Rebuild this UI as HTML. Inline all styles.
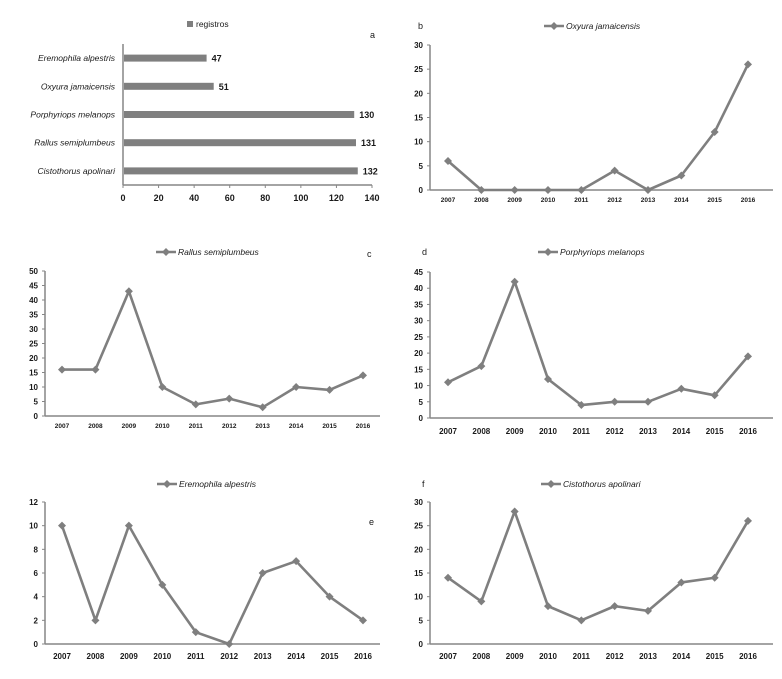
<!DOCTYPE html>
<html><head><meta charset="utf-8"><style>
body{margin:0;background:#fff;}
svg{display:block;font-family:"Liberation Sans",sans-serif;}
</style></head><body>
<svg id="chart" width="782" height="679" viewBox="0 0 782 679"></svg>
<script>
const species = ["Eremophila alpestris","Oxyura jamaicensis","Porphyriops melanops","Rallus semiplumbeus","Cistothorus apolinari"];
const registros = [47,51,130,131,132];
const barTicks = [0,20,40,60,80,100,120,140];
const years = ["2007","2008","2009","2010","2011","2012","2013","2014","2015","2016"];
const oxyura = [6,0,0,0,0,4,0,3,12,26];
const rallus = [16,16,43,10,4,6,3,10,9,14];
const porphyriops = [11,16,42,12,4,5,5,9,7,19];
const eremophila = [10,2,10,5,1,0,6,7,4,2];
const cistothorus = [14,9,28,8,5,8,7,13,14,26];
const ticksB = [0,5,10,15,20,25,30];
const ticksC = [0,5,10,15,20,25,30,35,40,45,50];
const ticksD = [0,5,10,15,20,25,30,35,40,45];
const ticksE = [0,2,4,6,8,10,12];
const ticksF = [0,5,10,15,20,25,30];

const svg = document.getElementById('chart');
const NS = "http://www.w3.org/2000/svg";
function mk(tag, attrs, parent, text){
  const e = document.createElementNS(NS, tag);
  for (const k in attrs) e.setAttribute(k, attrs[k]);
  if (text !== undefined) e.textContent = text;
  (parent||svg).appendChild(e);
  return e;
}
const GRAY = "#7f7f7f", AX = "#868686", TXT = "#1a1a1a";

// Bar chart a
(function(){
  const g = mk('g', {});
  
  
  const x0 = 123, x1 = 372, yTop = 44, yBot = 185;
  const xs = v => x0 + (v - 0) / 140 * (x1 - x0);
  const band = (yBot - yTop) / species.length;
  const yc = i => yTop + band * (i + 0.5);
  const ax = mk('line', {x1:x0, y1:yTop, x2:x0, y2:yBot, stroke:AX, 'stroke-width':1.5}, g);
  
  
  const bx = mk('line', {x1:x0, y1:yBot, x2:x1, y2:yBot, stroke:AX, 'stroke-width':1.5}, g);
  
  
  barTicks.forEach(t => {
    mk('line', {x1:xs(t), y1:yBot, x2:xs(t), y2:yBot+3, stroke:AX}, g);
    const tl = mk('text', {x:xs(t), y:yBot+16, 'font-size':9, 'font-weight':'bold', fill:TXT, 'text-anchor':'middle'}, g, t);
    
    
  });
  species.forEach((s, i) => {
    const y = yc(i);
    const b = mk('rect', {x:x0+1, y:y-3.5, width:xs(registros[i])-x0-1, height:7, fill:GRAY}, g);
    
    
    const v = mk('text', {x:xs(registros[i])+5, y:y+3.5, 'font-size':9, 'font-weight':'bold', fill:TXT}, g, registros[i]);
    
    
    const l = mk('text', {x:115, y:y+3, 'font-size':8.5, 'font-style':'italic', fill:TXT, 'text-anchor':'end'}, g, s);
    
    
  });
  const ls = mk('rect', {x:187, y:21, width:6, height:6, fill:GRAY}, g);
  
  
  const lt = mk('text', {x:196, y:27, 'font-size':8.5, fill:TXT}, g, 'registros');
  
  
  const pl = mk('text', {x:370, y:38, 'font-size':9, fill:TXT}, g, 'a');
  
  
})();

function lineChart(o){
  const g = mk('g', {});
  
  
  const maxT = o.ticks[o.ticks.length-1];
  const ys = v => o.yBot - v / maxT * (o.yBot - o.yTop);
  const xs = i => o.xFirst + i * (o.xLast - o.xFirst) / (years.length - 1);
  const ya = mk('line', {x1:o.x0, y1:o.yTop, x2:o.x0, y2:o.yBot, stroke:AX, 'stroke-width':1.5}, g);
  
  
  const xa = mk('line', {x1:o.x0, y1:o.yBot, x2:o.xEnd, y2:o.yBot, stroke:AX, 'stroke-width':1.5}, g);
  
  
  o.ticks.forEach(t => {
    mk('line', {x1:o.x0-3, y1:ys(t), x2:o.x0, y2:ys(t), stroke:AX}, g);
    const tl = mk('text', {x:o.x0-7, y:ys(t)+3, 'font-size':o.yfs, 'font-weight':'bold', fill:TXT, 'text-anchor':'end'}, g, t);
    
    
  });
  years.forEach((yr, i) => {
    const tl = mk('text', {x:xs(i), y:o.yBot+o.xoff, 'font-size':o.xfs, 'font-weight':'bold', fill:TXT, 'text-anchor':'middle'}, g, yr);
    
    
  });
  const pts = o.data.map((v,i) => xs(i) + ',' + ys(v)).join(' ');
  const ln = mk('polyline', {points:pts, fill:'none', stroke:GRAY, 'stroke-width':2.6, 'stroke-linejoin':'round'}, g);
  
  
  o.data.forEach((v,i) => {
    const x = xs(i), y = ys(v);
    const p = mk('polygon', {points:`${x},${y-4} ${x+4},${y} ${x},${y+4} ${x-4},${y}`, fill:GRAY}, g);
    
    
  });
  const lx = o.legX;
  const ll = mk('line', {x1:lx, y1:o.legY, x2:lx+20, y2:o.legY, stroke:GRAY, 'stroke-width':2.6}, g);
  
  
  mk('polygon', {points:`${lx+10},${o.legY-4} ${lx+14},${o.legY} ${lx+10},${o.legY+4} ${lx+6},${o.legY}`, fill:GRAY}, g);
  const lt = mk('text', {x:lx+22, y:o.legY+3, 'font-size':8.5, 'font-style':'italic', fill:TXT}, g, o.name);
  
  
  const pl = mk('text', {x:o.lx, y:o.ly, 'font-size':9, fill:TXT}, g, o.letter);
  
  
}

lineChart({letter:'b', name:'Oxyura jamaicensis', data:oxyura, ticks:ticksB, x0:430, xEnd:773, yTop:45, yBot:190, xFirst:448, xLast:748, yfs:8, xfs:6.5, xoff:12, legX:544, legY:26, lx:418, ly:29});
lineChart({letter:'c', name:'Rallus semiplumbeus', data:rallus, ticks:ticksC, x0:45, xEnd:380, yTop:271, yBot:416, xFirst:62, xLast:363, yfs:8, xfs:6.5, xoff:12, legX:156, legY:252, lx:367, ly:257});
lineChart({letter:'d', name:'Porphyriops melanops', data:porphyriops, ticks:ticksD, x0:430, xEnd:773, yTop:272, yBot:418, xFirst:448, xLast:748, yfs:8, xfs:8, xoff:16, legX:538, legY:252, lx:422, ly:255});
lineChart({letter:'e', name:'Eremophila alpestris', data:eremophila, ticks:ticksE, x0:45, xEnd:380, yTop:502, yBot:644, xFirst:62, xLast:363, yfs:8, xfs:8, xoff:15, legX:157, legY:484, lx:369, ly:525});
lineChart({letter:'f', name:'Cistothorus apolinari', data:cistothorus, ticks:ticksF, x0:430, xEnd:773, yTop:502, yBot:644, xFirst:448, xLast:748, yfs:8, xfs:8, xoff:15, legX:541, legY:484, lx:422, ly:487});
</script>
</body></html>
